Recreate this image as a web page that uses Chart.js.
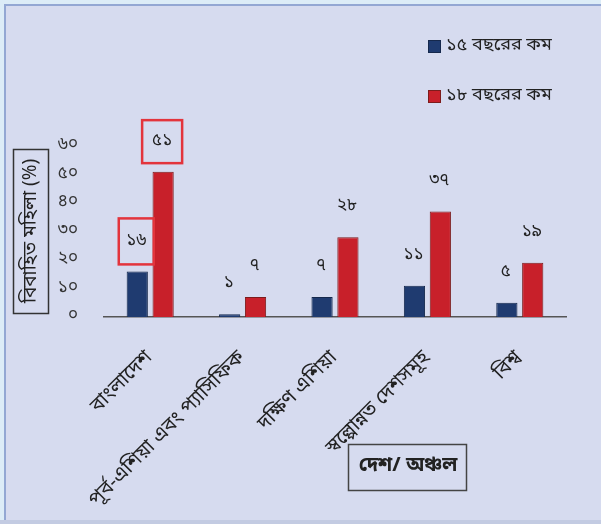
<!DOCTYPE html>
<html>
<head>
<meta charset="utf-8">
<script src="https://cdn.jsdelivr.net/npm/chart.js@4.4.1/dist/chart.umd.min.js"></script>
<style>
html,body{margin:0;padding:0;background:#d6dbef;}
#wrap{width:601px;height:524px;position:relative;}
</style>
</head>
<body>
<div id="wrap"><canvas id="c" width="601" height="524"></canvas></div>
<script>
const categories = ['বাংলাদেশ', 'পূর্ব-এশিয়া এবং প্যাসিফিক', 'দক্ষিণ এশিয়া', 'স্বল্পোন্নত দেশসমূহ', 'বিশ্ব'];
const seriesNames = ['১৫ বছরের কম', '১৮ বছরের কম'];
const under15 = [16, 1, 7, 11, 5];
const under18 = [51, 7, 28, 37, 19];
const yTicks = [0, 10, 20, 30, 40, 50, 60];
const yTitle = 'বিবাহিত মহিলা (%)';
const xTitle = 'দেশ/ অঞ্চল';
const highlighted = [0];

const FONT = '"Noto Sans Bengali","Noto Sans","Lohit Bengali","FreeSans",sans-serif';
const bn = v => String(v).replace(/\d/g, d => '০১২৩৪৫৬৭৮৯'[d]);
const colors = ['#1f3b70', '#c8202a'];
const borders = ['#15284c', '#7c1c1c'];

const framePlugin = {
  id: 'frame',
  beforeDraw(chart) {
    const ctx = chart.ctx;
    ctx.save();
    ctx.fillStyle = '#dcecf7';
    ctx.fillRect(0, 0, chart.width, chart.height);
    ctx.fillStyle = '#d6dbef';
    ctx.fillRect(5, 5, chart.width - 5, chart.height - 9);
    ctx.strokeStyle = '#93a7d3';
    ctx.lineWidth = 2;
    ctx.beginPath();
    ctx.moveTo(5, chart.height - 4);
    ctx.lineTo(5, 5);
    ctx.lineTo(chart.width, 5);
    ctx.stroke();
    ctx.fillStyle = '#c3cbe2';
    ctx.fillRect(0, chart.height - 4, chart.width, 4);
    ctx.restore();
  }
};

const decorPlugin = {
  id: 'decor',
  afterDatasetsDraw(chart) {
    const ctx = chart.ctx;
    ctx.save();
    // data labels
    ctx.font = '17px ' + FONT;
    ctx.textAlign = 'center';
    ctx.textBaseline = 'middle';
    chart.data.datasets.forEach((ds, di) => {
      const meta = chart.getDatasetMeta(di);
      meta.data.forEach((el, i) => {
        const x = el.x - 1, y = el.y - 30;
        ctx.fillStyle = '#222';
        ctx.fillText(bn(ds.data[i]), x, y);
        if (highlighted.includes(i)) {
          ctx.strokeStyle = '#e3343c';
          ctx.lineWidth = 2.5;
          const w = di === 0 ? 35 : 40, h = di === 0 ? 46 : 43;
          ctx.strokeRect(x - w / 2, y - h / 2, w, h);
        }
      });
    });
    // legend
    ctx.textAlign = 'left';
    ctx.font = '18px ' + FONT;
    seriesNames.forEach((n, i) => {
      const y = 46 + i * 50;
      ctx.fillStyle = colors[i];
      ctx.fillRect(428, y - 6, 13, 13);
      ctx.strokeStyle = borders[i];
      ctx.lineWidth = 1;
      ctx.strokeRect(428.5, y - 5.5, 12, 12);
      ctx.fillStyle = '#222';
      ctx.fillText(n, 446, y + 1);
    });
    // y title
    ctx.save();
    ctx.translate(31, 231);
    ctx.rotate(-Math.PI / 2);
    ctx.textAlign = 'center';
    ctx.font = '19px ' + FONT;
    ctx.fillStyle = '#222';
    ctx.fillText(yTitle, 0, 1);
    ctx.restore();
    ctx.strokeStyle = '#333';
    ctx.lineWidth = 1.5;
    ctx.strokeRect(13.5, 149.5, 35, 164);
    // x title
    ctx.textAlign = 'center';
    ctx.font = 'bold 20px ' + FONT;
    ctx.fillStyle = '#222';
    ctx.fillText(xTitle, 408, 467);
    ctx.strokeStyle = '#444';
    ctx.lineWidth = 1.5;
    ctx.strokeRect(348.5, 444.5, 118, 46);
    ctx.restore();
  }
};

new Chart(document.getElementById('c'), {
  type: 'bar',
  data: {
    labels: categories,
    datasets: [
      { label: seriesNames[0], data: under15, backgroundColor: colors[0], borderColor: borders[0], borderWidth: 1 },
      { label: seriesNames[1], data: under18, backgroundColor: colors[1], borderColor: borders[1], borderWidth: 1 }
    ]
  },
  options: {
    responsive: false,
    animation: false,
    devicePixelRatio: 1,
    layout: { padding: { left: 0, top: 146, right: 35, bottom: 0 } },
    categoryPercentage: 0.56,
    barPercentage: 0.82,
    plugins: { legend: { display: false }, tooltip: { enabled: false } },
    scales: {
      x: {
        grid: { display: false },
        border: { display: true, color: '#555', width: 1.5 },
        ticks: { minRotation: 45, maxRotation: 45, padding: 22, color: '#222', font: { size: 20, family: FONT } },
        afterFit(s) { s.height = 207; }
      },
      y: {
        min: 0, max: 60,
        afterBuildTicks(s) { s.ticks = yTicks.map(v => ({ value: v })); },
        grid: { display: false },
        border: { display: false },
        ticks: { padding: 18, color: '#333', font: { size: 17, family: FONT }, callback: v => bn(v) },
        afterFit(s) { s.width = 104; }
      }
    }
  },
  plugins: [framePlugin, decorPlugin]
});
</script>
</body>
</html>
